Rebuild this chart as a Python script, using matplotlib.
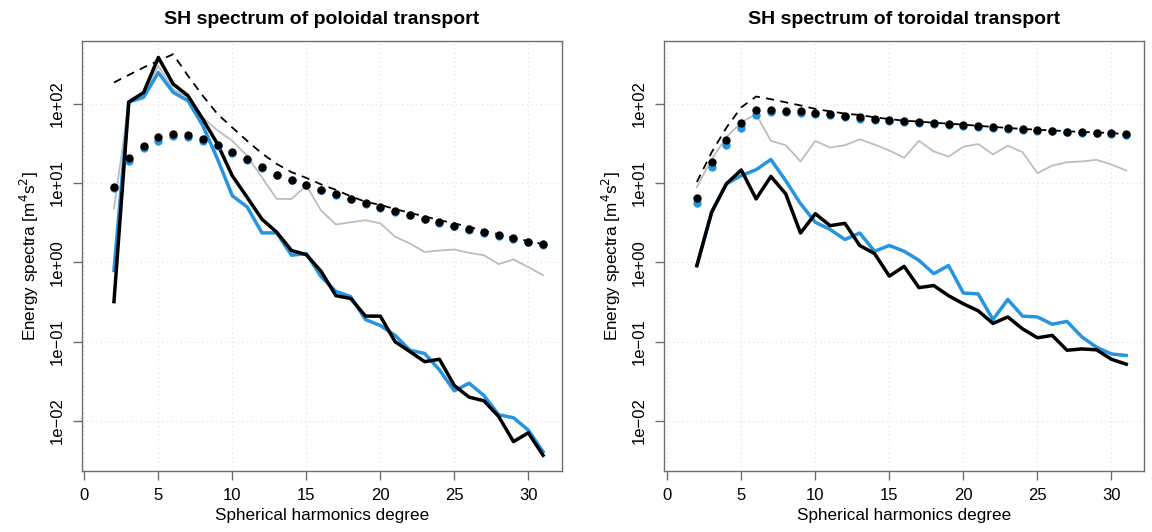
import matplotlib
matplotlib.use("Agg")
import matplotlib.pyplot as plt
import numpy as np

plt.rcParams['font.family'] = ['Liberation Sans', 'DejaVu Sans']

# spherical harmonic degrees
degree = list(range(2, 32))

# poloidal transport spectra
pol_blue = [0.79, 105, 120, 247, 139, 109, 53, 20, 6.9, 5.0, 2.35, 2.35, 1.23, 1.29, 0.66,
            0.43, 0.37, 0.19, 0.16, 0.12, 0.078, 0.071, 0.044, 0.024, 0.030, 0.021, 0.012,
            0.011, 0.0077, 0.0041]
pol_black = [0.32, 105, 138, 383, 177, 126, 64, 31, 12.3, 6.6, 3.5, 2.4, 1.41, 1.25, 0.77,
             0.38, 0.35, 0.21, 0.21, 0.10, 0.075, 0.056, 0.060, 0.028, 0.020, 0.018, 0.0114,
             0.0055, 0.0071, 0.0037]
pol_gray = [4.8, 100, 130, 300, 153, 120, 67, 46, 34, 22, 11.8, 6.3, 6.3, 9.3, 4.5, 3.0, 3.2,
            3.4, 3.1, 2.1, 1.73, 1.35, 1.41, 1.45, 1.32, 1.23, 0.95, 1.09, 0.87, 0.69]
pol_dash = [185, 230, 286, 347, 420, 225, 126, 74, 50, 34, 23.6, 17.4, 13.7, 11.6, 9.6, 8.2,
            6.8, 5.8, 5.3, 4.7, 4.2, 3.8, 3.4, 3.1, 2.8, 2.5, 2.25, 2.05, 1.85, 1.7]
pol_dots_black = [8.9, 20.5, 29.6, 37.7, 42, 40, 36, 30, 24.5, 19.8, 15.8, 12.6, 10.9, 9.5,
                  8.2, 7.2, 6.3, 5.6, 5.0, 4.4, 4.0, 3.55, 3.2, 2.9, 2.6, 2.4, 2.2, 2.0, 1.83, 1.7]
pol_dots_blue = [8.7, 19, 27.5, 34, 39, 38, 34, 29, 24, 19.5, 15.6, 12.5, 10.8, 9.4, 8.1, 7.1,
                 6.2, 5.5, 4.9, 4.3, 3.9, 3.5, 3.15, 2.85, 2.55, 2.35, 2.15, 1.95, 1.8, 1.65]

# toroidal transport spectra
tor_blue = [0.91, 4.3, 9.8, 12.4, 14.7, 19.8, 10.7, 5.5, 3.2, 2.6, 1.94, 2.34, 1.38, 1.63,
            1.38, 1.06, 0.72, 0.91, 0.41, 0.40, 0.19, 0.34, 0.21, 0.205, 0.166, 0.18, 0.115,
            0.085, 0.070, 0.067]
tor_black = [0.91, 4.3, 9.8, 14.6, 6.3, 12.1, 7.3, 2.34, 4.1, 2.9, 3.1, 1.63, 1.29, 0.67,
             0.89, 0.48, 0.51, 0.38, 0.30, 0.245, 0.17, 0.205, 0.145, 0.112, 0.12, 0.078,
             0.081, 0.079, 0.060, 0.052]
tor_gray = [8.9, 20, 38, 58, 74, 34, 30, 18.7, 34, 28, 30, 35.5, 30.5, 25.7, 20.8, 34, 25,
            21.5, 28.7, 31, 22.9, 29.6, 24.4, 13.3, 16.6, 18.3, 18.7, 19.6, 17.1, 14.4]
tor_dash = [10.3, 24.4, 50, 90, 123, 114, 104, 95, 86, 80, 75, 72, 67.3, 64, 61, 59.5, 57.5,
            56, 54.5, 52.5, 51, 49.5, 48, 47, 46, 45, 44, 43.5, 42.5, 41.5]
tor_dots_black = [6.5, 18.3, 35, 56.6, 83, 84, 82, 80, 76, 74, 70, 67, 64, 62, 60, 59, 56.6,
                  55.5, 54, 51.8, 50.3, 49, 47.6, 46.7, 45.8, 44.5, 44, 43.2, 42.4, 41]
tor_dots_blue = [5.6, 16.1, 30.5, 49.4, 73, 78, 79, 77, 74, 72, 68, 65, 62.5, 60.5, 58.5,
                 57.5, 55, 54, 52.5, 50.5, 49, 47.8, 46.5, 45.5, 44.7, 43.5, 43, 42.2, 41.4, 40]

titles = ["SH spectrum of poloidal transport", "SH spectrum of toroidal transport"]
xticks = [0, 5, 10, 15, 20, 25, 30]
yticks = [1e-2, 1e-1, 1e0, 1e1, 1e2]
ytick_labels = ["1e\u221202", "1e\u221201", "1e+00", "1e+01", "1e+02"]

BLUE = '#2595e0'

fig = plt.figure(figsize=(11.52, 5.32), dpi=100)
ax1 = fig.add_axes([82 / 1152, 1 - 471 / 532, 480 / 1152, 430 / 532])
ax2 = fig.add_axes([664 / 1152, 1 - 471 / 532, 480 / 1152, 430 / 532])

panels = [
    (ax1, pol_gray, pol_blue, pol_black, pol_dash, pol_dots_blue, pol_dots_black, -0.16, 32.28),
    (ax2, tor_gray, tor_blue, tor_black, tor_dash, tor_dots_blue, tor_dots_black, -0.22, 32.2),
]

for i, (ax, gray, blue, black, dash, dblue, dblack, x0, x1) in enumerate(panels):
    ax.set_yscale('log')
    ax.plot(degree, gray, color='#bdbdbd', lw=1.3, zorder=2)
    ax.plot(degree, blue, color=BLUE, lw=2.5, zorder=3)
    ax.plot(degree, black, color='black', lw=2.5, zorder=4)
    ax.plot(degree, dash, color='black', lw=1.3, ls=(0, (4.5, 3.5)), zorder=5)
    ax.plot(degree, dblue, 'o', color=BLUE, ms=6, mec='none', zorder=6)
    ax.plot(degree, dblack, 'o', color='black', ms=6, mec='none', zorder=7)

    ax.set_xlim(x0, x1)
    ax.set_ylim(10 ** -2.63, 10 ** 2.79)
    ax.set_xticks(xticks)
    ax.set_yticks(yticks)
    ax.set_yticklabels(ytick_labels, rotation=90, va='center')
    ax.minorticks_off()
    ax.grid(True, color='#e0e0e0', ls=(0, (1, 3)), lw=0.8)
    ax.set_axisbelow(True)
    for sp in ax.spines.values():
        sp.set_color('#6e6e6e')
        sp.set_linewidth(1.0)
    ax.tick_params(direction='out', length=6.5, width=1.0, color='#6e6e6e',
                   labelsize=12, pad=6)
    ax.set_xlabel("Spherical harmonics degree", fontsize=12.3, labelpad=3)
    ax.set_ylabel("Energy spectra [m$^4$s$^2$]", fontsize=12.3, labelpad=6)
    ax.set_title(titles[i], fontsize=14, fontweight='bold', pad=12)

fig.savefig("out.png", dpi=100)
